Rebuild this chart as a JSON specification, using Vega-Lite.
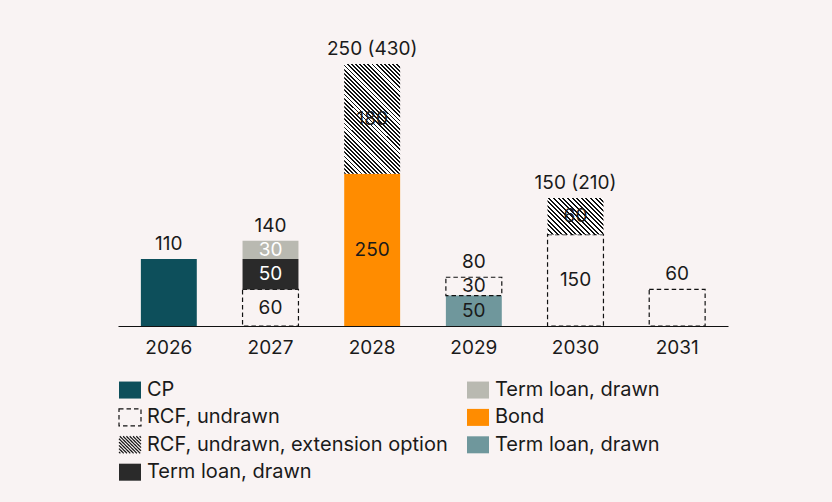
{
  "$schema": "https://vega.github.io/schema/vega-lite/v6.json",
  "autosize": {"type": "none"},
  "padding": {"left": 118, "top": 64, "right": 104, "bottom": 176},
  "width": 610,
  "height": 262,
  "background": "#f9f3f3",
  "config": {"view": {"stroke": null}, "font": "Inter"},
  "datasets": {
    "segments": [
      {"year": "2026", "cat": "CP", "value": 110, "ord": 1, "inside": false},
      {"year": "2027", "cat": "RCF, undrawn", "value": 60, "ord": 1, "inside": true},
      {"year": "2027", "cat": "Term loan, drawn|dark", "value": 50, "ord": 2, "inside": true},
      {"year": "2027", "cat": "Term loan, drawn|light", "value": 30, "ord": 3, "inside": true},
      {"year": "2028", "cat": "Bond", "value": 250, "ord": 1, "inside": true},
      {"year": "2028", "cat": "RCF, undrawn, extension option", "value": 180, "ord": 2, "inside": true},
      {"year": "2029", "cat": "Term loan, drawn|teal", "value": 50, "ord": 1, "inside": true},
      {"year": "2029", "cat": "RCF, undrawn", "value": 30, "ord": 2, "inside": true},
      {"year": "2030", "cat": "RCF, undrawn", "value": 150, "ord": 1, "inside": true},
      {"year": "2030", "cat": "RCF, undrawn, extension option", "value": 60, "ord": 2, "inside": true},
      {"year": "2031", "cat": "RCF, undrawn", "value": 60, "ord": 1, "inside": false}
    ],
    "totals": [
      {"year": "2026", "top": 110, "label": "110"},
      {"year": "2027", "top": 140, "label": "140"},
      {"year": "2028", "top": 430, "label": "250 (430)"},
      {"year": "2029", "top": 80, "label": "80"},
      {"year": "2030", "top": 210, "label": "150 (210)"},
      {"year": "2031", "top": 60, "label": "60"}
    ]
  },
  "layer": [
    {
      "data": {"name": "segments"},
      "transform": [
        {"stack": "value", "groupby": ["year"], "sort": [{"field": "ord", "order": "ascending"}], "as": ["y0", "y1"]}
      ],
      "mark": {"type": "bar", "strokeWidth": 1.2},
      "encoding": {
        "x": {
          "field": "year",
          "type": "ordinal",
          "scale": {"domain": ["2026", "2027", "2028", "2029", "2030", "2031"], "paddingInner": 0.45, "paddingOuter": 0.225},
          "axis": {"title": null, "labelAngle": 0, "ticks": false, "domainColor": "#111", "domainWidth": 1, "labelFontSize": 19, "labelColor": "#1a1a1a", "labelPadding": 12}
        },
        "y": {"field": "y0", "type": "quantitative", "scale": {"domain": [0, 430], "nice": false}, "axis": null},
        "y2": {"field": "y1"},
        "color": {
          "condition": [
            {
              "test": "datum.cat === 'RCF, undrawn, extension option' && datum.year === '2028'",
              "value": {
                "gradient": "linear", "x1": 0, "y1": 1, "x2": 0.61, "y2": -0.198,
                "stops": [
                  {"offset": 0, "color": "#111"}, {"offset": 0.011, "color": "#111"}, {"offset": 0.011, "color": "#fff"}, {"offset": 0.025, "color": "#fff"},
                  {"offset": 0.025, "color": "#111"}, {"offset": 0.036, "color": "#111"}, {"offset": 0.036, "color": "#fff"}, {"offset": 0.05, "color": "#fff"},
                  {"offset": 0.05, "color": "#111"}, {"offset": 0.061, "color": "#111"}, {"offset": 0.061, "color": "#fff"}, {"offset": 0.075, "color": "#fff"},
                  {"offset": 0.075, "color": "#111"}, {"offset": 0.086, "color": "#111"}, {"offset": 0.086, "color": "#fff"}, {"offset": 0.1, "color": "#fff"},
                  {"offset": 0.1, "color": "#111"}, {"offset": 0.111, "color": "#111"}, {"offset": 0.111, "color": "#fff"}, {"offset": 0.125, "color": "#fff"},
                  {"offset": 0.125, "color": "#111"}, {"offset": 0.136, "color": "#111"}, {"offset": 0.136, "color": "#fff"}, {"offset": 0.15, "color": "#fff"},
                  {"offset": 0.15, "color": "#111"}, {"offset": 0.161, "color": "#111"}, {"offset": 0.161, "color": "#fff"}, {"offset": 0.175, "color": "#fff"},
                  {"offset": 0.175, "color": "#111"}, {"offset": 0.186, "color": "#111"}, {"offset": 0.186, "color": "#fff"}, {"offset": 0.2, "color": "#fff"},
                  {"offset": 0.2, "color": "#111"}, {"offset": 0.211, "color": "#111"}, {"offset": 0.211, "color": "#fff"}, {"offset": 0.225, "color": "#fff"},
                  {"offset": 0.225, "color": "#111"}, {"offset": 0.236, "color": "#111"}, {"offset": 0.236, "color": "#fff"}, {"offset": 0.25, "color": "#fff"},
                  {"offset": 0.25, "color": "#111"}, {"offset": 0.261, "color": "#111"}, {"offset": 0.261, "color": "#fff"}, {"offset": 0.275, "color": "#fff"},
                  {"offset": 0.275, "color": "#111"}, {"offset": 0.286, "color": "#111"}, {"offset": 0.286, "color": "#fff"}, {"offset": 0.3, "color": "#fff"},
                  {"offset": 0.3, "color": "#111"}, {"offset": 0.311, "color": "#111"}, {"offset": 0.311, "color": "#fff"}, {"offset": 0.325, "color": "#fff"},
                  {"offset": 0.325, "color": "#111"}, {"offset": 0.336, "color": "#111"}, {"offset": 0.336, "color": "#fff"}, {"offset": 0.35, "color": "#fff"},
                  {"offset": 0.35, "color": "#111"}, {"offset": 0.361, "color": "#111"}, {"offset": 0.361, "color": "#fff"}, {"offset": 0.375, "color": "#fff"},
                  {"offset": 0.375, "color": "#111"}, {"offset": 0.386, "color": "#111"}, {"offset": 0.386, "color": "#fff"}, {"offset": 0.4, "color": "#fff"},
                  {"offset": 0.4, "color": "#111"}, {"offset": 0.411, "color": "#111"}, {"offset": 0.411, "color": "#fff"}, {"offset": 0.425, "color": "#fff"},
                  {"offset": 0.425, "color": "#111"}, {"offset": 0.436, "color": "#111"}, {"offset": 0.436, "color": "#fff"}, {"offset": 0.45, "color": "#fff"},
                  {"offset": 0.45, "color": "#111"}, {"offset": 0.461, "color": "#111"}, {"offset": 0.461, "color": "#fff"}, {"offset": 0.475, "color": "#fff"},
                  {"offset": 0.475, "color": "#111"}, {"offset": 0.486, "color": "#111"}, {"offset": 0.486, "color": "#fff"}, {"offset": 0.5, "color": "#fff"},
                  {"offset": 0.5, "color": "#111"}, {"offset": 0.511, "color": "#111"}, {"offset": 0.511, "color": "#fff"}, {"offset": 0.525, "color": "#fff"},
                  {"offset": 0.525, "color": "#111"}, {"offset": 0.536, "color": "#111"}, {"offset": 0.536, "color": "#fff"}, {"offset": 0.55, "color": "#fff"},
                  {"offset": 0.55, "color": "#111"}, {"offset": 0.561, "color": "#111"}, {"offset": 0.561, "color": "#fff"}, {"offset": 0.575, "color": "#fff"},
                  {"offset": 0.575, "color": "#111"}, {"offset": 0.586, "color": "#111"}, {"offset": 0.586, "color": "#fff"}, {"offset": 0.6, "color": "#fff"},
                  {"offset": 0.6, "color": "#111"}, {"offset": 0.611, "color": "#111"}, {"offset": 0.611, "color": "#fff"}, {"offset": 0.625, "color": "#fff"},
                  {"offset": 0.625, "color": "#111"}, {"offset": 0.636, "color": "#111"}, {"offset": 0.636, "color": "#fff"}, {"offset": 0.65, "color": "#fff"},
                  {"offset": 0.65, "color": "#111"}, {"offset": 0.661, "color": "#111"}, {"offset": 0.661, "color": "#fff"}, {"offset": 0.675, "color": "#fff"},
                  {"offset": 0.675, "color": "#111"}, {"offset": 0.686, "color": "#111"}, {"offset": 0.686, "color": "#fff"}, {"offset": 0.7, "color": "#fff"},
                  {"offset": 0.7, "color": "#111"}, {"offset": 0.711, "color": "#111"}, {"offset": 0.711, "color": "#fff"}, {"offset": 0.725, "color": "#fff"},
                  {"offset": 0.725, "color": "#111"}, {"offset": 0.736, "color": "#111"}, {"offset": 0.736, "color": "#fff"}, {"offset": 0.75, "color": "#fff"},
                  {"offset": 0.75, "color": "#111"}, {"offset": 0.761, "color": "#111"}, {"offset": 0.761, "color": "#fff"}, {"offset": 0.775, "color": "#fff"},
                  {"offset": 0.775, "color": "#111"}, {"offset": 0.786, "color": "#111"}, {"offset": 0.786, "color": "#fff"}, {"offset": 0.8, "color": "#fff"},
                  {"offset": 0.8, "color": "#111"}, {"offset": 0.811, "color": "#111"}, {"offset": 0.811, "color": "#fff"}, {"offset": 0.825, "color": "#fff"},
                  {"offset": 0.825, "color": "#111"}, {"offset": 0.836, "color": "#111"}, {"offset": 0.836, "color": "#fff"}, {"offset": 0.85, "color": "#fff"},
                  {"offset": 0.85, "color": "#111"}, {"offset": 0.861, "color": "#111"}, {"offset": 0.861, "color": "#fff"}, {"offset": 0.875, "color": "#fff"},
                  {"offset": 0.875, "color": "#111"}, {"offset": 0.886, "color": "#111"}, {"offset": 0.886, "color": "#fff"}, {"offset": 0.9, "color": "#fff"},
                  {"offset": 0.9, "color": "#111"}, {"offset": 0.911, "color": "#111"}, {"offset": 0.911, "color": "#fff"}, {"offset": 0.925, "color": "#fff"},
                  {"offset": 0.925, "color": "#111"}, {"offset": 0.936, "color": "#111"}, {"offset": 0.936, "color": "#fff"}, {"offset": 0.95, "color": "#fff"},
                  {"offset": 0.95, "color": "#111"}, {"offset": 0.961, "color": "#111"}, {"offset": 0.961, "color": "#fff"}, {"offset": 0.975, "color": "#fff"},
                  {"offset": 0.975, "color": "#111"}, {"offset": 0.986, "color": "#111"}, {"offset": 0.986, "color": "#fff"}, {"offset": 1, "color": "#fff"}
                ]
              }
            },
            {
              "test": "datum.cat === 'RCF, undrawn, extension option' && datum.year === '2030'",
              "value": {
                "gradient": "linear", "x1": 0, "y1": 1, "x2": 1.158, "y2": 0.243,
                "stops": [
                  {"offset": 0, "color": "#111"}, {"offset": 0.022, "color": "#111"}, {"offset": 0.022, "color": "#fff"}, {"offset": 0.05, "color": "#fff"},
                  {"offset": 0.05, "color": "#111"}, {"offset": 0.072, "color": "#111"}, {"offset": 0.072, "color": "#fff"}, {"offset": 0.1, "color": "#fff"},
                  {"offset": 0.1, "color": "#111"}, {"offset": 0.122, "color": "#111"}, {"offset": 0.122, "color": "#fff"}, {"offset": 0.15, "color": "#fff"},
                  {"offset": 0.15, "color": "#111"}, {"offset": 0.172, "color": "#111"}, {"offset": 0.172, "color": "#fff"}, {"offset": 0.2, "color": "#fff"},
                  {"offset": 0.2, "color": "#111"}, {"offset": 0.222, "color": "#111"}, {"offset": 0.222, "color": "#fff"}, {"offset": 0.25, "color": "#fff"},
                  {"offset": 0.25, "color": "#111"}, {"offset": 0.272, "color": "#111"}, {"offset": 0.272, "color": "#fff"}, {"offset": 0.3, "color": "#fff"},
                  {"offset": 0.3, "color": "#111"}, {"offset": 0.322, "color": "#111"}, {"offset": 0.322, "color": "#fff"}, {"offset": 0.35, "color": "#fff"},
                  {"offset": 0.35, "color": "#111"}, {"offset": 0.372, "color": "#111"}, {"offset": 0.372, "color": "#fff"}, {"offset": 0.4, "color": "#fff"},
                  {"offset": 0.4, "color": "#111"}, {"offset": 0.422, "color": "#111"}, {"offset": 0.422, "color": "#fff"}, {"offset": 0.45, "color": "#fff"},
                  {"offset": 0.45, "color": "#111"}, {"offset": 0.472, "color": "#111"}, {"offset": 0.472, "color": "#fff"}, {"offset": 0.5, "color": "#fff"},
                  {"offset": 0.5, "color": "#111"}, {"offset": 0.522, "color": "#111"}, {"offset": 0.522, "color": "#fff"}, {"offset": 0.55, "color": "#fff"},
                  {"offset": 0.55, "color": "#111"}, {"offset": 0.572, "color": "#111"}, {"offset": 0.572, "color": "#fff"}, {"offset": 0.6, "color": "#fff"},
                  {"offset": 0.6, "color": "#111"}, {"offset": 0.622, "color": "#111"}, {"offset": 0.622, "color": "#fff"}, {"offset": 0.65, "color": "#fff"},
                  {"offset": 0.65, "color": "#111"}, {"offset": 0.672, "color": "#111"}, {"offset": 0.672, "color": "#fff"}, {"offset": 0.7, "color": "#fff"},
                  {"offset": 0.7, "color": "#111"}, {"offset": 0.722, "color": "#111"}, {"offset": 0.722, "color": "#fff"}, {"offset": 0.75, "color": "#fff"},
                  {"offset": 0.75, "color": "#111"}, {"offset": 0.772, "color": "#111"}, {"offset": 0.772, "color": "#fff"}, {"offset": 0.8, "color": "#fff"},
                  {"offset": 0.8, "color": "#111"}, {"offset": 0.822, "color": "#111"}, {"offset": 0.822, "color": "#fff"}, {"offset": 0.85, "color": "#fff"},
                  {"offset": 0.85, "color": "#111"}, {"offset": 0.872, "color": "#111"}, {"offset": 0.872, "color": "#fff"}, {"offset": 0.9, "color": "#fff"},
                  {"offset": 0.9, "color": "#111"}, {"offset": 0.922, "color": "#111"}, {"offset": 0.922, "color": "#fff"}, {"offset": 0.95, "color": "#fff"},
                  {"offset": 0.95, "color": "#111"}, {"offset": 0.972, "color": "#111"}, {"offset": 0.972, "color": "#fff"}, {"offset": 1, "color": "#fff"}
                ]
              }
            }
          ],
          "field": "cat",
          "type": "nominal",
          "scale": {
            "domain": ["CP", "RCF, undrawn", "RCF, undrawn, extension option", "Term loan, drawn|dark", "Term loan, drawn|light", "Bond", "Term loan, drawn|teal"],
            "range": ["#0d4f5b", "transparent", "transparent", "#2a2a2a", "#b9b9b1", "#ff8c00", "#6f979c"]
          },
          "legend": {
            "title": null,
            "orient": "none",
            "legendX": 0,
            "legendY": 314,
            "columns": 2,
            "padding": 0,
            "symbolType": "M-1,-0.773h2v1.546h-2z",
            "symbolSize": 484,
            "symbolStrokeWidth": 1.2,
            "labelFont": "Inter",
            "labelFontSize": 20,
            "labelColor": "#1a1a1a",
            "labelLimit": 400,
            "labelOffset": 5,
            "columnPadding": 16,
            "rowPadding": 4.4,
            "labelExpr": "split(datum.label, '|')[0]"
          }
        },
        "stroke": {
          "field": "cat",
          "type": "nominal",
          "scale": {
            "domain": ["CP", "RCF, undrawn", "RCF, undrawn, extension option", "Term loan, drawn|dark", "Term loan, drawn|light", "Bond", "Term loan, drawn|teal"],
            "range": ["transparent", "#111111", "#111111", "transparent", "transparent", "transparent", "transparent"]
          }
        },
        "strokeOpacity": {"condition": {"test": "datum.cat === 'RCF, undrawn, extension option'", "value": 0}, "value": 1},
        "strokeDash": {
          "field": "cat",
          "type": "nominal",
          "scale": {
            "domain": ["CP", "RCF, undrawn", "RCF, undrawn, extension option", "Term loan, drawn|dark", "Term loan, drawn|light", "Bond", "Term loan, drawn|teal"],
            "range": [[1, 0], [4.5, 3], [1, 0], [1, 0], [1, 0], [1, 0], [1, 0]]
          }
        }
      }
    },
    {
      "data": {"name": "segments"},
      "transform": [{"filter": "false"}],
      "mark": {"type": "point", "filled": true, "strokeWidth": 1.2},
      "encoding": {
        "shape": {
          "field": "cat",
          "type": "nominal",
          "scale": {
            "domain": ["CP", "RCF, undrawn", "RCF, undrawn, extension option", "Term loan, drawn|dark", "Term loan, drawn|light", "Bond", "Term loan, drawn|teal"],
            "range": [
              "M-1,-0.773h2v1.546h-2z",
              "M-1,-0.773h2v1.546h-2z",
              "M-1,0.65L-0.877,0.773M-1,0.35L-0.577,0.773M-1,0.05L-0.277,0.773M-1,-0.25L0.023,0.773M-1,-0.55L0.323,0.773M-0.923,-0.773L0.623,0.773M-0.623,-0.773L0.923,0.773M-0.323,-0.773L1,0.55M-0.023,-0.773L1,0.25M0.277,-0.773L1,-0.05M0.577,-0.773L1,-0.35M0.877,-0.773L1,-0.65",
              "M-1,-0.773h2v1.546h-2z",
              "M-1,-0.773h2v1.546h-2z",
              "M-1,-0.773h2v1.546h-2z",
              "M-1,-0.773h2v1.546h-2z"
            ]
          }
        }
      }
    },
    {
      "data": {"name": "segments"},
      "transform": [
        {"stack": "value", "groupby": ["year"], "sort": [{"field": "ord", "order": "ascending"}], "as": ["y0", "y1"]},
        {"filter": {"field": "inside", "equal": true}},
        {"calculate": "(datum.y0 + datum.y1) / 2", "as": "mid"}
      ],
      "mark": {"type": "text", "fontSize": 19, "baseline": "middle", "font": "Inter"},
      "encoding": {
        "x": {"field": "year", "type": "ordinal"},
        "y": {"field": "mid", "type": "quantitative", "scale": {"domain": [0, 430], "nice": false}},
        "text": {"field": "value"},
        "color": {"condition": {"test": "datum.cat === 'Term loan, drawn|dark' || datum.cat === 'Term loan, drawn|light'", "value": "#ffffff"}, "value": "#1a1a1a"}
      }
    },
    {
      "data": {"name": "totals"},
      "mark": {"type": "text", "fontSize": 19, "baseline": "bottom", "dy": -5, "font": "Inter", "color": "#1a1a1a"},
      "encoding": {
        "x": {"field": "year", "type": "ordinal"},
        "y": {"field": "top", "type": "quantitative", "scale": {"domain": [0, 430], "nice": false}},
        "text": {"field": "label"}
      }
    }
  ]
}
